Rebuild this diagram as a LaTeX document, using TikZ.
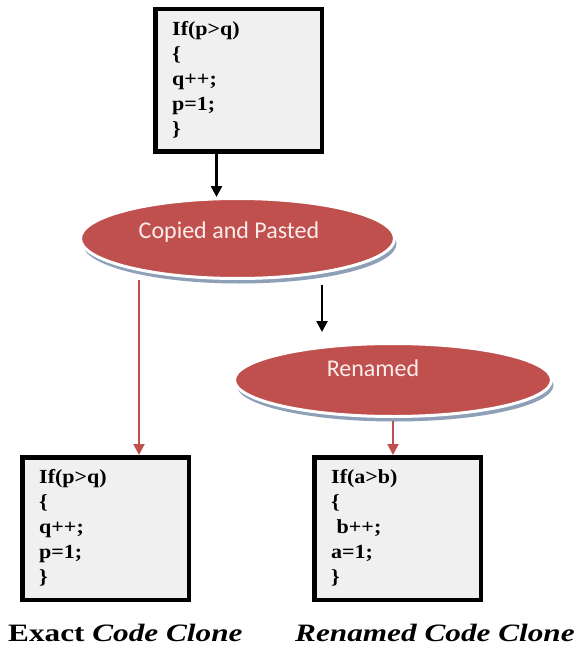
\documentclass[tikz,border=0pt]{standalone}
\usepackage{fontspec}
\usetikzlibrary{shapes.geometric,arrows.meta,shadows,calc}
\newfontfamily\codefont[FakeStretch=1.1]{Liberation Serif}
\newfontfamily\labfont[FakeStretch=1.25]{Liberation Serif}
\newfontfamily\ellfont{Carlito}
\definecolor{boxfill}{HTML}{F0F0F0}
\definecolor{ellred}{HTML}{C0504D}
\definecolor{shadowblue}{HTML}{8EA0B8}
\definecolor{elltext}{HTML}{FCEDED}
\begin{document}
\begin{tikzpicture}[x=1pt,y=-1pt,
  codebox/.style={draw=black,line width=4.5pt,fill=boxfill,minimum width=166.5pt,minimum height=142.5pt,anchor=north west,inner sep=0pt},
  codetext/.style={anchor=north west,inner sep=0pt,align=left,font=\codefont\bfseries\fontsize{20}{25}\selectfont},
  ellnode/.style={ellipse,fill=ellred,draw=white,line width=3pt,inner sep=0pt,
    general shadow={fill=shadowblue,shadow xshift=2pt,shadow yshift=-5pt}},
  elltxt/.style={inner sep=0pt,text=elltext,font=\ellfont\fontsize{24}{28}\selectfont},
  barrow/.style={draw=black,line width=2.5pt,-{Triangle[length=11pt,width=11pt]}},
  rarrow/.style={draw=ellred,line width=2pt,-{Triangle[length=11pt,width=11pt]}},
  labtxt/.style={anchor=base west,inner sep=0pt,font=\labfont\bfseries\fontsize{25}{28}\selectfont}]
\useasboundingbox[fill=white] (0,0) rectangle (584,647);

% boxes
\node[codebox] (top) at (153,7) {};
\node[codetext] (toptext) at (172,21) {If(p>q)\\\{\\q++;\\p=1;\\\}};
\node[codebox] (bl) at (20,455) {};
\node[codetext] (bltext) at (39,469) {If(p>q)\\\{\\q++;\\p=1;\\\}};
\node[codebox] (br) at (312,455) {};
\node[codetext] (brtext) at (331,469) {If(a>b)\\\{\\\ b++;\\a=1;\\\}};

% ellipses
\node[ellnode,minimum width=314pt,minimum height=80pt] (e1) at (237.5,238.5) {};
\node[elltxt] (t1) at (229,232) {Copied and Pasted};
\node[ellnode,minimum width=317pt,minimum height=73pt] (e2) at (393,380) {};
\node[elltxt] (t2) at (373,368) {Renamed};

% connectors
\draw[barrow] ([xshift=-22pt]top.south) -- ([xshift=-22pt]top.south |- e1.north);
\draw[barrow] ([xshift=84.5pt,yshift=-5pt]e1.south) -- ([xshift=84.5pt,yshift=10pt]e1.south |- e2.north);
\draw[rarrow] ([xshift=33.5pt]bl.north |- e1.south) -- ([xshift=33.5pt]bl.north);
\draw[rarrow] ([yshift=-3pt]e2.south) -- (e2.south |- br.north);

% labels
\node[labtxt] (lab1) at (8,641) {Exact \itshape Code Clone};
\node[labtxt] (lab2) at (295,641) {\itshape Renamed Code Clone};
\end{tikzpicture}
\end{document}
